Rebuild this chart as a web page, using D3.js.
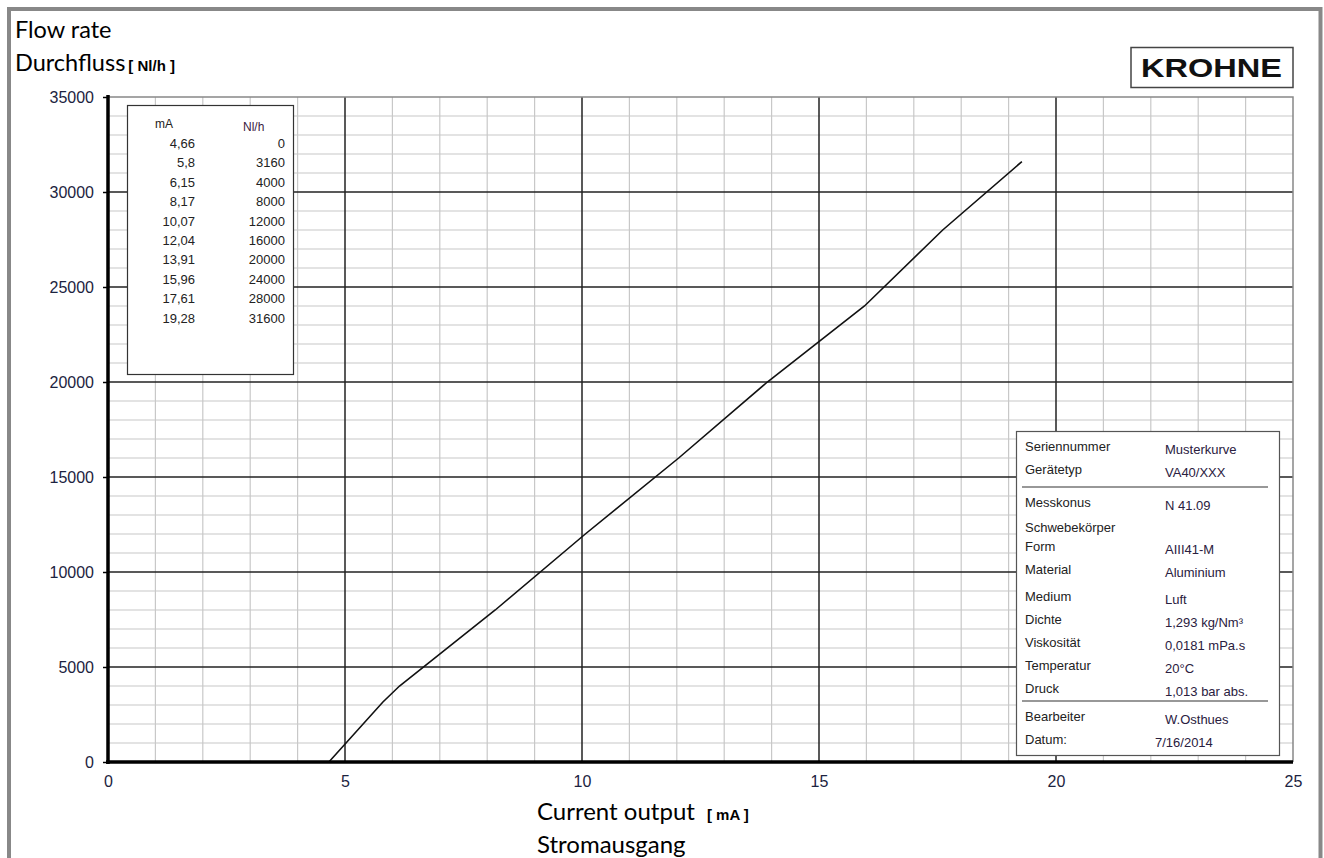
<!DOCTYPE html>
<html>
<head>
<meta charset="utf-8">
<script src="https://cdn.jsdelivr.net/npm/d3@7"></script>
<style>
  body { margin: 0; background: #fff; }
  svg text { font-family: "Liberation Sans", Arial, sans-serif; }
</style>
</head>
<body>
<div id="wrapper"></div>
<script>
// data from the calibration table
const currentMA = [4.66, 5.8, 6.15, 8.17, 10.07, 12.04, 13.91, 15.96, 17.61, 19.28]
const currentLabels = ["4,66", "5,8", "6,15", "8,17", "10,07", "12,04", "13,91", "15,96", "17,61", "19,28"]
const flowNlh = [0, 3160, 4000, 8000, 12000, 16000, 20000, 24000, 28000, 31600]

const xTicks = [0, 5, 10, 15, 20, 25]
const yTicks = [0, 5000, 10000, 15000, 20000, 25000, 30000, 35000]

const infoLabels = ["Seriennummer", "Gerätetyp", "Messkonus", "Schwebekörper", "Form", "Material",
  "Medium", "Dichte", "Viskosität", "Temperatur", "Druck", "Bearbeiter", "Datum:"]
const infoValues = ["Musterkurve", "VA40/XXX", "N 41.09", "", "AIII41-M", "Aluminium",
  "Luft", "1,293 kg/Nm³", "0,0181 mPa.s", "20°C", "1,013 bar abs.", "W.Osthues", "7/16/2014"]
const infoLabelY = [448, 471, 504, 529, 548, 571, 598, 621, 644, 667, 690, 718, 741]

const dims = {
  width: 1324, height: 858,
  margin: { top: 97, right: 31, bottom: 96, left: 108 },
}
dims.boundedWidth = dims.width - dims.margin.left - dims.margin.right
dims.boundedHeight = dims.height - dims.margin.top - dims.margin.bottom

const svg = d3.select("#wrapper").append("svg")
  .attr("width", dims.width)
  .attr("height", dims.height)

// outer frame
svg.append("path")
  .attr("d", "M9,862 V9 H1320.5 V862")
  .attr("fill", "none")
  .attr("stroke", "#888")
  .attr("stroke-width", 4)

const bounds = svg.append("g")
  .attr("transform", `translate(${dims.margin.left},${dims.margin.top})`)

const xScale = d3.scaleLinear().domain([0, 25]).range([0, dims.boundedWidth])
const yScale = d3.scaleLinear().domain([0, 35000]).range([dims.boundedHeight, 0])

// minor grid
bounds.append("g").selectAll("line")
  .data(d3.range(1, 25).filter(d => d % 5 !== 0))
  .join("line")
    .attr("x1", d => xScale(d)).attr("x2", d => xScale(d))
    .attr("y1", 0).attr("y2", dims.boundedHeight)
    .attr("stroke", "#c8c8c8").attr("stroke-width", 1.2)
bounds.append("g").selectAll("line")
  .data(d3.range(1000, 35000, 1000).filter(d => d % 5000 !== 0))
  .join("line")
    .attr("x1", 0).attr("x2", dims.boundedWidth)
    .attr("y1", d => yScale(d)).attr("y2", d => yScale(d))
    .attr("stroke", "#c8c8c8").attr("stroke-width", 1.2)

// major grid
bounds.append("g").selectAll("line")
  .data([5, 10, 15, 20])
  .join("line")
    .attr("x1", d => xScale(d)).attr("x2", d => xScale(d))
    .attr("y1", 0).attr("y2", dims.boundedHeight)
    .attr("stroke", "#222").attr("stroke-width", 1.5)
bounds.append("g").selectAll("line")
  .data([5000, 10000, 15000, 20000, 25000, 30000])
  .join("line")
    .attr("x1", 0).attr("x2", dims.boundedWidth)
    .attr("y1", d => yScale(d)).attr("y2", d => yScale(d))
    .attr("stroke", "#222").attr("stroke-width", 1.5)

// plot border (top / right)
bounds.append("path")
  .attr("d", `M0,0 H${dims.boundedWidth} V${dims.boundedHeight}`)
  .attr("fill", "none").attr("stroke", "#888").attr("stroke-width", 1.5)

// curve
const line = d3.line()
  .x((d, i) => xScale(currentMA[i]))
  .y(d => yScale(d))
bounds.append("path")
  .datum(flowNlh)
  .attr("d", line)
  .attr("fill", "none")
  .attr("stroke", "#111")
  .attr("stroke-width", 1.6)

// axes
const yAxis = bounds.append("g")
  .call(d3.axisLeft(yScale).tickValues(yTicks).tickSize(5).tickPadding(9).tickFormat(d3.format("d")))
yAxis.select(".domain").attr("stroke", "#000").attr("stroke-width", 3.5).attr("d", `M0,-2V${dims.boundedHeight + 2}`)
yAxis.selectAll(".tick line").attr("stroke", "#000").attr("stroke-width", 1.5)
yAxis.selectAll("text").attr("font-size", 16).attr("fill", "#1c2340")

const xAxis = bounds.append("g")
  .attr("transform", `translate(0,${dims.boundedHeight})`)
  .call(d3.axisBottom(xScale).tickValues(xTicks).tickSize(0).tickPadding(14))
xAxis.select(".domain").attr("stroke", "#000").attr("stroke-width", 3.5).attr("d", `M-2,0H${dims.boundedWidth}`)
xAxis.selectAll("text").attr("font-size", 16).attr("fill", "#1c2340")

// calibration table
const table = svg.append("g")
table.append("rect")
  .attr("x", 127.5).attr("y", 105.5).attr("width", 166).attr("height", 269)
  .attr("fill", "#fff").attr("stroke", "#333").attr("stroke-width", 1.2)
table.append("text").attr("x", 155).attr("y", 128).attr("font-size", 12).attr("fill", "#222").text("mA")
table.append("text").attr("x", 243).attr("y", 131).attr("font-size", 12).attr("fill", "#3a2040").text("Nl/h")
const rowScale = d3.scaleLinear().domain([0, 9]).range([148, 322.5])
table.selectAll(".ma")
  .data(currentLabels)
  .join("text")
    .attr("x", 195).attr("y", (d, i) => rowScale(i))
    .attr("text-anchor", "end").attr("font-size", 13).attr("fill", "#222")
    .text(d => d)
table.selectAll(".nl")
  .data(flowNlh)
  .join("text")
    .attr("x", 285).attr("y", (d, i) => rowScale(i))
    .attr("text-anchor", "end").attr("font-size", 13).attr("fill", "#222")
    .text(d => d)

// info box
const info = svg.append("g")
info.append("rect")
  .attr("x", 1016.5).attr("y", 431.5).attr("width", 263).attr("height", 324)
  .attr("fill", "#fff").attr("stroke", "#555").attr("stroke-width", 1.2)
info.append("line").attr("x1", 1022).attr("x2", 1268).attr("y1", 487).attr("y2", 487)
  .attr("stroke", "#333").attr("stroke-width", 1.2)
info.append("line").attr("x1", 1022).attr("x2", 1268).attr("y1", 701).attr("y2", 701)
  .attr("stroke", "#333").attr("stroke-width", 1.2)
info.selectAll(".lbl")
  .data(infoLabels)
  .join("text")
    .attr("x", 1025).attr("y", (d, i) => infoLabelY[i])
    .attr("dominant-baseline", "middle")
    .attr("font-size", 13).attr("fill", "#222")
    .text(d => d)
info.selectAll(".val")
  .data(infoValues)
  .join("text")
    .attr("x", (d, i) => i === infoValues.length - 1 ? 1155 : 1165)
    .attr("y", (d, i) => infoLabelY[i] + 3)
    .attr("dominant-baseline", "middle")
    .attr("font-size", 13).attr("fill", "#2a2040")
    .text(d => d)

// logo
svg.append("rect")
  .attr("x", 1131).attr("y", 47.5).attr("width", 162).attr("height", 40)
  .attr("fill", "#fff").attr("stroke", "#444").attr("stroke-width", 1.5)
svg.append("text")
  .attr("x", 1141).attr("y", 77)
  .attr("font-family", "DejaVu Sans")
  .attr("font-weight", "bold").attr("font-size", 26)
  .attr("textLength", 141).attr("lengthAdjust", "spacingAndGlyphs")
  .attr("fill", "#111")
  .text("KROHNE")

// titles
const titleFont = "Lato, 'Open Sans', sans-serif"
svg.append("text")
  .attr("x", 15).attr("y", 38)
  .style("font-family", titleFont)
  .attr("font-size", 23.5).attr("fill", "#000")
  .text("Flow rate")
const yTitle = svg.append("text")
  .attr("x", 15).attr("y", 71)
  .style("font-family", titleFont)
  .attr("font-size", 23.5).attr("fill", "#000")
yTitle.append("tspan").text("Durchfluss")
yTitle.append("tspan")
  .style("font-family", "'Liberation Sans', Arial, sans-serif")
  .attr("font-size", 15).attr("font-weight", "bold").attr("dx", 3)
  .text("[ Nl/h ]")

const xTitle = svg.append("text")
  .attr("x", 537).attr("y", 820)
  .style("font-family", titleFont)
  .attr("font-size", 24).attr("fill", "#000")
xTitle.append("tspan").text("Current output")
xTitle.append("tspan")
  .style("font-family", "'Liberation Sans', Arial, sans-serif")
  .attr("font-size", 15).attr("font-weight", "bold").attr("dx", 12)
  .text("[ mA ]")
svg.append("text")
  .attr("x", 537).attr("y", 853)
  .style("font-family", titleFont)
  .attr("font-size", 24).attr("fill", "#000")
  .text("Stromausgang")
</script>
</body>
</html>
